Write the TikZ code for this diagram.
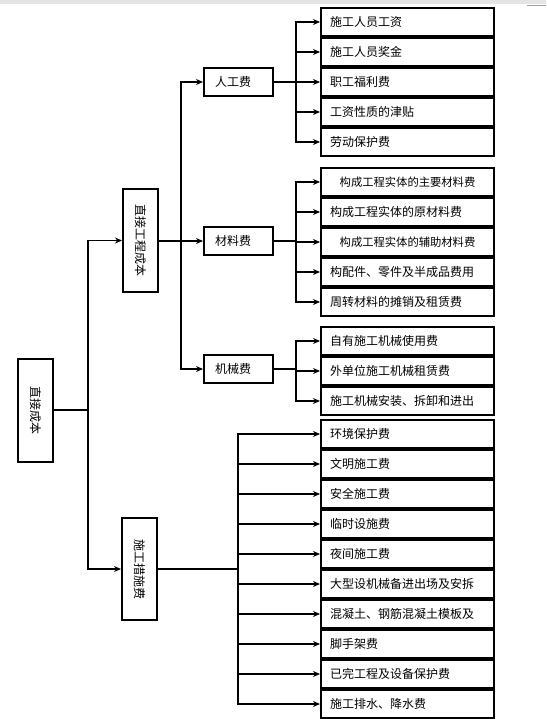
\documentclass[tikz,border=0pt]{standalone}
\usepackage{fontspec}
\usepackage{graphicx}
\setmainfont{Noto Sans CJK SC}
\usetikzlibrary{positioning,arrows.meta}
\definecolor{chrome}{HTML}{E6E4E2}

\begin{document}
\begin{tikzpicture}[x=1pt,y=-1pt,>={Stealth[length=7pt,width=6pt]},line width=1.6pt,
    item/.style={draw,line width=2pt,anchor=north west,minimum height=28pt,text width=155pt,inner xsep=9pt,align=left,font=\fontsize{12}{14}\selectfont},
    head/.style={draw,line width=2pt,minimum height=28pt,text width=47pt,inner xsep=11pt,align=left,font=\fontsize{12}{14}\selectfont},
    vbox/.style={draw,line width=2pt,minimum width=35pt,minimum height=103pt,inner sep=0pt,font=\fontsize{12}{14}\selectfont}]
            \useasboundingbox (0,0) rectangle (546,719);
            \fill[chrome] (0,0) rectangle (546,4.5);
            \draw[line width=1pt,chrome!70!black] (527,5.5) -- (546,5.5);

            \node[vbox] (root) at (35.5,410) {\rotatebox{-90}{直接成本}};
            \node[vbox] (direct) at (140.5,240.5) {\rotatebox{-90}{直接工程成本}};
            \node[vbox,minimum height=102pt] (measure) at (139.5,569) {\rotatebox{-90}{施工措施费}};

            \node[head] (labour) at (238.5,82) {人工费};
            \node[head] (material) at (238.5,241) {材料费};
            \node[head] (machine) at (238.5,369) {机械费};

            % labour
            \node[item] (lab1) at (320,7) {施工人员工资};
            \node[item] (lab2) [below=0pt of lab1] {施工人员奖金};
            \node[item] (lab3) [below=0pt of lab2] {职工福利费};
            \node[item] (lab4) [below=0pt of lab3] {工资性质的津贴};
            \node[item] (lab5) [below=0pt of lab4] {劳动保护费};

            % material
            \node[item,align=center,font=\fontsize{11.3}{14}\selectfont] (mat1) at (320,167) {构成工程实体的主要材料费};
            \node[item] (mat2) [below=0pt of mat1] {构成工程实体的原材料费};
            \node[item,align=center,font=\fontsize{11.3}{14}\selectfont] (mat3) [below=0pt of mat2] {构成工程实体的辅助材料费};
            \node[item] (mat4) [below=0pt of mat3] {构配件、零件及半成品费用};
            \node[item] (mat5) [below=0pt of mat4] {周转材料的摊销及租赁费};

            % machine
            \node[item] (mac1) at (320,326) {自有施工机械使用费};
            \node[item] (mac2) [below=0pt of mac1] {外单位施工机械租赁费};
            \node[item] (mac3) [below=0pt of mac2] {施工机械安装、拆卸和进出};

            % measures
            \node[item] (mea1) at (320,419) {环境保护费};
            \node[item] (mea2) [below=0pt of mea1] {文明施工费};
            \node[item] (mea3) [below=0pt of mea2] {安全施工费};
            \node[item] (mea4) [below=0pt of mea3] {临时设施费};
            \node[item] (mea5) [below=0pt of mea4] {夜间施工费};
            \node[item] (mea6) [below=0pt of mea5] {大型设机械备进出场及安拆};
            \node[item] (mea7) [below=0pt of mea6] {混凝土、钢筋混凝土模板及};
            \node[item] (mea8) [below=0pt of mea7] {脚手架费};
            \node[item] (mea9) [below=0pt of mea8] {已完工程及设备保护费};
            \node[item] (mea10) [below=0pt of mea9] {施工排水、降水费};

            \coordinate (b0) at (88,410);
            \coordinate (b1) at (181,241);
            \coordinate (b2) at (296,82);
            \coordinate (b3) at (296,241);
            \coordinate (b4) at (296,369);
            \coordinate (b5) at (238,569);

            \draw (root.east) -- (b0);
            \draw[->] (b0) |- (direct.west);
            \draw[->] (b0) |- (measure.west);

            \draw (direct.east |- b1) -- (b1);
            \draw[->] (b1) |- (labour.west);
            \draw[->] (b1) |- (material.west);
            \draw[->] (b1) |- (machine.west);

            \draw (labour.east) -- (b2);
            \draw[->] (b2) |- (lab1.west);
            \draw[->] (b2) |- (lab2.west);
            \draw[->] (b2) |- (lab3.west);
            \draw[->] (b2) |- (lab4.west);
            \draw[->] (b2) |- (lab5.west);

            \draw (material.east) -- (b3);
            \draw[->] (b3) |- (mat1.west);
            \draw[->] (b3) |- (mat2.west);
            \draw[->] (b3) |- (mat3.west);
            \draw[->] (b3) |- (mat4.west);
            \draw[->] (b3) |- (mat5.west);

            \draw (machine.east) -- (b4);
            \draw[->] (b4) |- (mac1.west);
            \draw[->] (b4) |- (mac2.west);
            \draw[->] (b4) |- (mac3.west);

            \draw (measure.east) -- (b5);
            \draw[->] (b5) |- (mea1.west);
            \draw[->] (b5) |- (mea2.west);
            \draw[->] (b5) |- (mea3.west);
            \draw[->] (b5) |- (mea4.west);
            \draw[->] (b5) |- (mea5.west);
            \draw[->] (b5) |- (mea6.west);
            \draw[->] (b5) |- (mea7.west);
            \draw[->] (b5) |- (mea8.west);
            \draw[->] (b5) |- (mea9.west);
            \draw[->] (b5) |- (mea10.west);
        \end{tikzpicture}
\end{document}
